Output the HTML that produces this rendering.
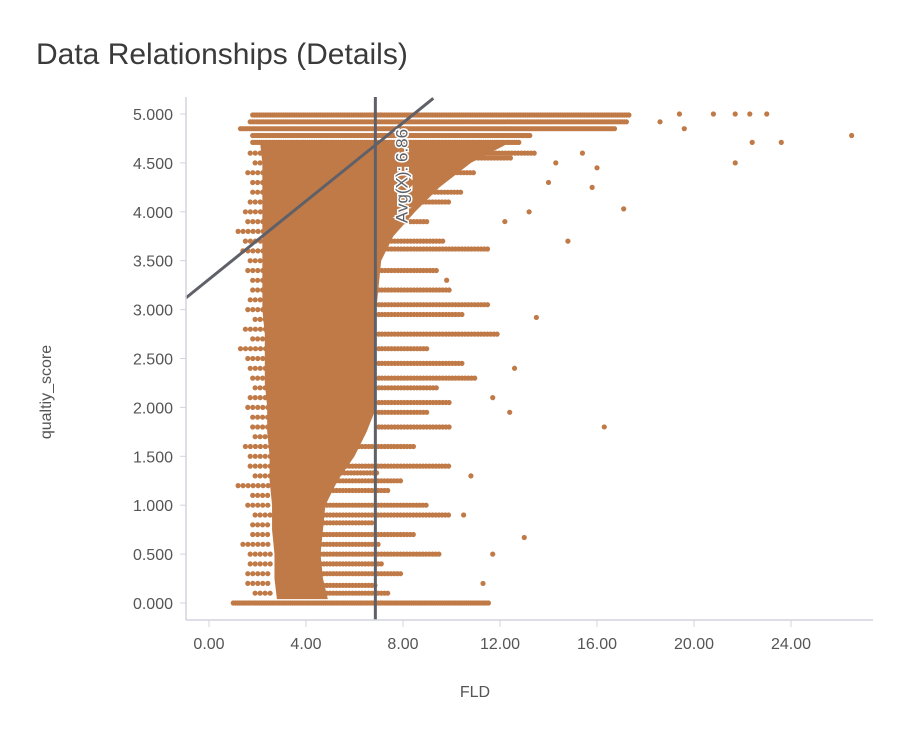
<!DOCTYPE html>
<html><head><meta charset="utf-8"><style>
body{margin:0;background:#fff;}
svg{display:block;font-family:"Liberation Sans",sans-serif;}
</style></head><body>
<svg id="chart" width="903" height="740" viewBox="0 0 903 740">
<text x="36" y="64" font-size="30" fill="#3a3a3a" font-weight="300">Data Relationships (Details)</text>
<g id="marks"></g>
<g id="axes"></g>
</svg>
<script>
// ---- data ----
const xTicks = [0, 4, 8, 12, 16, 20, 24];
const yTicks = [0, 0.5, 1, 1.5, 2, 2.5, 3, 3.5, 4, 4.5, 5];
const avgX = 6.86;
const regIntercept = 3.31;
const regSlope = 0.2;
// dense core envelope
const coreY     = [4.72,4.5,4.25,4.0,3.75,3.5,3.25,3.0,2.75,2.5,2.25,2.0,1.75,1.5,1.25,1.0,0.75,0.5,0.25,0.04];
const coreLeft  = [2.1,2.2,2.2,2.2,2.2,2.2,2.2,2.2,2.3,2.3,2.3,2.4,2.4,2.5,2.5,2.6,2.6,2.7,2.7,2.8];
const coreRight = [12.5,10.8,9.5,8.5,7.6,7.1,7.0,6.9,6.9,6.9,6.9,6.9,6.5,6.0,5.3,4.8,4.7,4.6,4.7,4.9];
// horizontal rows of points: y, start x, end x
const rowY  = [4.99,4.92,4.85,4.78,4.71,4.6,4.55,4.4,4.2,4.1,3.9,3.7,3.62,3.4,3.2,3.05,2.95,2.75,2.6,2.45,2.3,2.2,2.05,1.95,1.8,1.6,1.4,1.33,1.25,1.15,1.0,0.9,0.82,0.7,0.6,0.5,0.4,0.3,0.18,0.1,0.0];
const rowX0 = [1.8,1.7,1.3,1.8,1.8,8,9,8,8,7.5,7,7,7,7,7,7,7,7,7,7,7,7,7,7,7,5,5,4.8,4.6,4.6,4.6,4.6,4.6,4.6,4.6,4.6,4.6,4.6,4.6,4.6,1.0];
const rowX1 = [17.4,17.3,16.8,13.3,12.8,13.5,12.5,11,10.5,10,9,9.7,11.5,9.5,10,11.5,10.5,12,9,10.5,11,9.5,10,9,10,8.5,10,7,8,7.5,9,10,6.8,8.5,7,9.5,7.2,8,6.9,7.5,11.6];
// left fringe rows
const fringeY  = [4.6,4.5,4.4,4.3,4.2,4.1,4.0,3.9,3.8,3.7,3.6,3.5,3.4,3.3,3.2,3.1,3.0,2.9,2.8,2.7,2.6,2.5,2.4,2.3,2.2,2.1,2.0,1.9,1.8,1.7,1.6,1.5,1.4,1.3,1.2,1.1,1.0,0.9,0.8,0.7,0.6,0.5,0.4,0.3,0.2,0.1];
const fringeX0 = [1.7,1.9,1.6,1.8,1.8,1.7,1.5,1.6,1.2,1.5,1.4,1.7,1.6,1.8,1.8,1.7,1.6,1.9,1.5,1.8,1.3,1.6,1.7,1.8,1.9,1.7,1.6,1.8,1.8,1.9,1.5,1.7,1.7,1.9,1.2,1.8,1.6,1.9,1.8,1.8,1.4,1.7,1.7,1.6,1.6,1.9];
// sparse outliers
const outX = [19.4,20.8,21.7,22.3,23.0,18.6,19.6,26.5,22.4,23.6,21.7,17.1,16.3,14.8,13.0,11.7,11.7,13.5,12.6,14.3,15.4,16.0,15.8,14.0,13.2,12.2,10.8,12.4,10.5,11.3,9.8];
const outY = [5.0,5.0,5.0,5.0,5.0,4.92,4.85,4.78,4.71,4.71,4.5,4.03,1.8,3.7,0.67,0.5,2.1,2.92,2.4,4.5,4.6,4.45,4.25,4.3,4.0,3.9,1.3,1.95,0.9,0.2,3.3];

// ---- scales ----
const X = v => 209 + v * 24.25;
const Y = v => 603 - v * 97.8;
const NS = "http://www.w3.org/2000/svg";
const marks = document.getElementById('marks');
const axes = document.getElementById('axes');
const DOT = "#c07a47";
function mk(tag, attrs, parent){const e=document.createElementNS(NS,tag);for(const k in attrs)e.setAttribute(k,attrs[k]);parent.appendChild(e);return e;}

// core polygon
let pts = coreY.map((y,i)=>X(coreLeft[i])+","+Y(y));
for(let i=coreY.length-1;i>=0;i--) pts.push(X(coreRight[i])+","+Y(coreY[i]));
const core = mk('polygon',{points:pts.join(' '),fill:DOT},marks);



function dotRow(y,x0,x1,step){
  for(let px=X(x0);px<=X(x1);px+=step){
    const c=mk('circle',{cx:px.toFixed(1),cy:Y(y).toFixed(1),r:2.6,fill:DOT},marks);
    
    
  }
}
rowY.forEach((y,i)=>dotRow(y,rowX0[i],rowX1[i],(i<5||i===rowY.length-1)?2.2:3.2));
fringeY.forEach((y,i)=>dotRow(y,fringeX0[i],2.6,5));
outX.forEach((x,i)=>{
  const c=mk('circle',{cx:X(x),cy:Y(outY[i]),r:2.6,fill:DOT},marks);
  
  
});

// regression line
const rx0=-0.95, rx1=9.25;
const reg=mk('line',{x1:X(rx0),y1:Y(regIntercept+regSlope*rx0),x2:X(rx1),y2:Y(regIntercept+regSlope*rx1),stroke:"#5f6068","stroke-width":3},marks);


// avg line
const av=mk('line',{x1:X(avgX),y1:97,x2:X(avgX),y2:620,stroke:"#5f6068","stroke-width":3},marks);


const avt=mk('text',{x:0,y:0,transform:`translate(${X(avgX)+32},176) rotate(-90)`,"text-anchor":"middle","font-size":17,fill:"#5f6068",stroke:"#fff","stroke-width":3,"paint-order":"stroke"},marks);
avt.textContent="Avg(X): 6.86";



// axes
mk('line',{x1:186,y1:97,x2:186,y2:620,stroke:"#d3d3de","stroke-width":1.5},axes);
mk('line',{x1:186,y1:620,x2:873,y2:620,stroke:"#d3d3de","stroke-width":1.5},axes);
yTicks.forEach(v=>{
  mk('line',{x1:180,y1:Y(v),x2:186,y2:Y(v),stroke:"#d3d3de"},axes);
  const t=mk('text',{x:173,y:Y(v)+6,"text-anchor":"end","font-size":16,fill:"#555"},axes);
  t.textContent=v.toFixed(3);
  
  
});
xTicks.forEach(v=>{
  mk('line',{x1:X(v),y1:620,x2:X(v),y2:627,stroke:"#d3d3de"},axes);
  const t=mk('text',{x:X(v),y:649,"text-anchor":"middle","font-size":16,fill:"#555"},axes);
  t.textContent=v.toFixed(2);
  
  
});
const xt=mk('text',{x:475,y:697,"text-anchor":"middle","font-size":16,fill:"#555"},axes);
xt.textContent="FLD";


const yt=mk('text',{x:0,y:0,transform:"translate(51,392) rotate(-90)","text-anchor":"middle","font-size":16,fill:"#555"},axes);
yt.textContent="qualtiy_score";


</script>
</body></html>
